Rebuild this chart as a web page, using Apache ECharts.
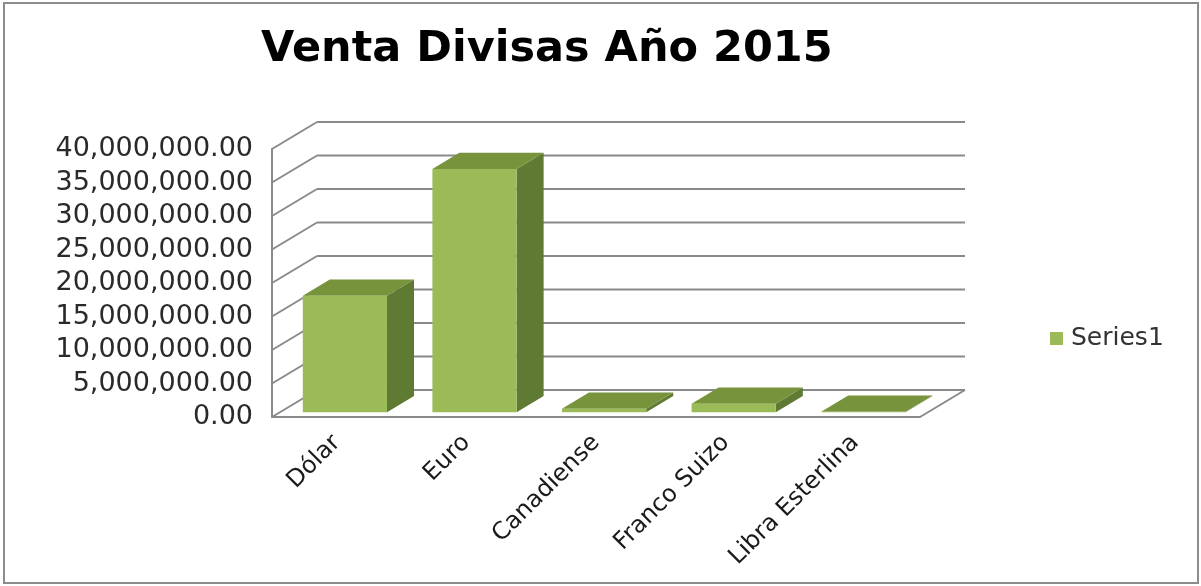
<!DOCTYPE html>
<html>
<head>
<meta charset="utf-8">
<script src="https://cdn.jsdelivr.net/npm/echarts@6/dist/echarts.min.js"></script>
<style>
html,body{margin:0;padding:0;background:#fff;}
#chart{width:1201px;height:586px;}
</style>
</head>
<body>
<div id="chart"></div>
<script>
// ---- data ----
const categories = ['Dólar', 'Euro', 'Canadiense', 'Franco Suizo', 'Libra Esterlina'];
const ventas = [17370000, 36280000, 500000, 1250000, 50000];
const yTicks = [0, 5000000, 10000000, 15000000, 20000000, 25000000, 30000000, 35000000, 40000000];
const seriesName = 'Series1';
const titleText = 'Venta Divisas Año 2015';

// ---- 3D styling constants ----
const DEPTH_X = 45, DEPTH_Y = -27;        // wall depth offset
const FRONT_F = 0.18, BAR_F = 0.6;        // bar front position / bar depth (fraction of depth)
const BAR_W = 0.65;                       // bar width fraction of band
const FACE = '#9BBB59', TOP = '#77933C', SIDE = '#5F7A32';
const WALL = '#8a8a8a';
const FONT = 'DejaVu Sans';

function fmt(v) {
  const s = Math.round(v).toString().replace(/\B(?=(\d{3})+(?!\d))/g, ',');
  return s + '.00';
}

const chart = echarts.init(document.getElementById('chart'), null, {renderer: 'canvas'});

const option = {
  backgroundColor: '#ffffff',
  animation: false,
  title: {
    text: titleText,
    left: 256,
    top: 23,
    textStyle: {fontFamily: FONT, fontWeight: 'bold', fontSize: 43, color: '#000'}
  },
  legend: {
    left: 1045,
    top: 321,
    itemWidth: 13,
    itemHeight: 13,
    data: [{name: seriesName, icon: 'rect', itemStyle: {color: FACE}}],
    textStyle: {fontFamily: FONT, fontSize: 25, color: '#333', padding: [0, 0, 0, 3]}
  },
  grid: {left: 272, top: 149, width: 648, height: 268, containLabel: false},
  xAxis: {
    type: 'category',
    data: categories,
    axisLine: {show: true, lineStyle: {color: WALL, width: 2}},
    axisTick: {show: false},
    axisLabel: {
      rotate: 45, margin: 22, interval: 0,
      fontFamily: FONT, fontSize: 24, color: '#1a1a1a'
    },
    splitLine: {show: false}
  },
  yAxis: {
    type: 'value',
    min: 0, max: 40000000, interval: 5000000,
    axisLine: {show: true, lineStyle: {color: WALL, width: 2}},
    axisTick: {show: false},
    splitLine: {show: false},
    axisLabel: {
      margin: 19, fontFamily: FONT, fontSize: 27, color: '#2a2a2a',
      formatter: fmt
    }
  },
  graphic: [{
    type: 'rect',
    shape: {x: 4, y: 3, width: 1194, height: 580},
    style: {fill: 'none', stroke: '#8c8c8c', lineWidth: 2},
    silent: true, z: -10
  }],
  series: [
    {
      type: 'custom',
      name: 'walls',
      clip: false,
      silent: true,
      z: 1,
      data: yTicks.map(v => [0, v]),
      renderItem: function (params, api) {
        const cs = params.coordSys;
        const y = api.coord([0, api.value(1)])[1];
        const x0 = cs.x, x1 = cs.x + cs.width;
        const ls = {stroke: WALL, lineWidth: 2, fill: 'none'};
        const children = [
          {type: 'line', shape: {x1: x0 + DEPTH_X, y1: y + DEPTH_Y, x2: x1 + DEPTH_X, y2: y + DEPTH_Y}, style: ls},
          {type: 'line', shape: {x1: x0, y1: y, x2: x0 + DEPTH_X, y2: y + DEPTH_Y}, style: ls}
        ];
        if (api.value(1) === 0) {
          children.push({type: 'line', shape: {x1: x1, y1: y, x2: x1 + DEPTH_X, y2: y + DEPTH_Y}, style: ls});
        }
        return {type: 'group', children: children};
      }
    },
    {
      type: 'custom',
      name: seriesName,
      clip: false,
      z: 5,
      itemStyle: {color: FACE},
      data: ventas.map((v, i) => [i, v]),
      renderItem: function (params, api) {
        const i = api.value(0), v = api.value(1);
        const base = api.coord([i, 0]);
        const top = api.coord([i, v]);
        const band = api.size([1, 0])[0];
        const w = band * BAR_W;
        const fx = DEPTH_X * FRONT_F, fy = DEPTH_Y * FRONT_F;
        const bx = DEPTH_X * BAR_F, by = DEPTH_Y * BAR_F;
        const x0 = base[0] - w / 2 + fx, x1 = x0 + w;
        const yb = base[1] + fy, yt = top[1] + fy;
        return {
          type: 'group',
          children: [
            {type: 'polygon', shape: {points: [[x1, yt], [x1 + bx, yt + by], [x1 + bx, yb + by], [x1, yb]]},
             style: {fill: SIDE}},
            {type: 'polygon', shape: {points: [[x0, yt], [x1, yt], [x1 + bx, yt + by], [x0 + bx, yt + by]]},
             style: {fill: TOP}},
            {type: 'rect', shape: {x: x0, y: yt, width: w, height: Math.max(yb - yt, 0)},
             style: {fill: FACE}}
          ]
        };
      }
    }
  ]
};
chart.setOption(option);
</script>
</body>
</html>
